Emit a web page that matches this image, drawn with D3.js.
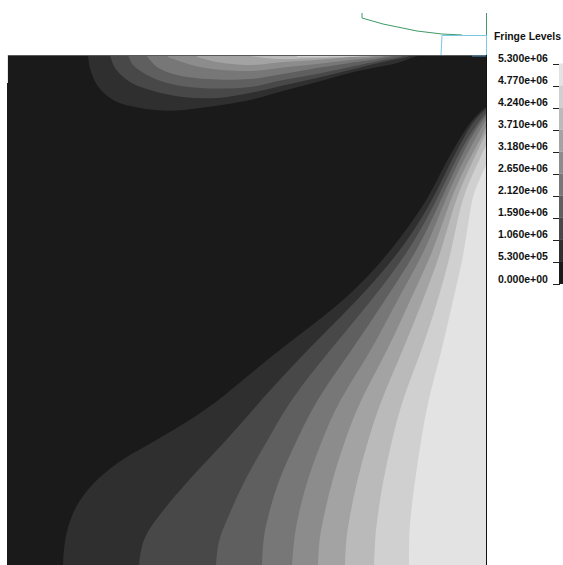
<!DOCTYPE html>
<html><head><meta charset="utf-8">
<style>html,body{margin:0;padding:0;background:#fff;overflow:hidden}svg{display:block}</style>
<script src="https://cdn.jsdelivr.net/npm/d3@7"></script></head>
<body><svg id="c" width="563" height="565"></svg>
<script>
// Fringe levels, top of legend first
const legendTitle = "Fringe Levels";
const fringeValues = [5.3e6,4.77e6,4.24e6,3.71e6,3.18e6,2.65e6,2.12e6,1.59e6,1.06e6,5.3e5,0];
const fringeLabels = ["5.300e+06","4.770e+06","4.240e+06","3.710e+06","3.180e+06","2.650e+06","2.120e+06","1.590e+06","1.060e+06","5.300e+05","0.000e+00"];
// band shades, lowest band first
const bandShades = ["#1a1a1a","#2f2f2f","#484848","#5f5f5f","#777777","#8c8c8c","#a3a3a3","#bababa","#d0d0d0","#e3e3e3"];

// Contours, in model units [x, depth] on a 479 x 510 plate
const right1 = [[56,510],[57,490],[61,470],[70,448],[88,425],[116,403],[150,385],[183,365],[213,345],[271,295],[340,245],[385,195],[421,145],[436,112],[456,78],[465,65],[475,55],[479,52]];
const right2 = [[132,510],[135,485],[148,465],[181,425],[220,385],[254,345],[300,295],[351,245],[395,195],[426,145],[441,112],[459,78],[469,63],[479,54]];
const right3 = [[209,510],[211,485],[220,465],[237,425],[261,385],[283,345],[323,295],[365,245],[403,195],[430,145],[445,112],[463,78],[479,58]];
const right4 = [[255,510],[256,485],[260,465],[271,425],[290,385],[309,345],[345,295],[378,245],[411,195],[434,145],[449,112],[466,78],[479,61]];
const right5 = [[285,510],[287,485],[290,465],[300,425],[315,385],[332,345],[365,295],[390,245],[419,195],[438,145],[453,112],[469,82],[479,65]];
const right6 = [[311,510],[312,485],[316,465],[325,425],[338,385],[353,345],[381,295],[403,245],[427,195],[443,145],[458,112],[473,85],[479,72]];
const right7 = [[338,510],[339,485],[342,465],[350,425],[361,385],[374,345],[396,295],[416,245],[435,195],[448,145],[463,112],[479,78]];
const right8 = [[367,510],[368,485],[370,465],[376,425],[385,385],[395,345],[415,295],[431,245],[445,195],[454,145],[469,112],[479,90]];
const right9 = [[402,510],[402,485],[403,465],[408,425],[414,385],[421,345],[435,295],[446,245],[458,195],[464,145],[471,128],[479,110]];
const lobe1 = [[81,0],[83,13],[90,30],[106,45],[133,53],[163,55.7],[193,53],[243,45],[276,36],[310,27],[343,18],[366,13],[390,8],[411,1],[418,0]];
const lobe2 = [[103,0],[108,13],[123,27],[143,35],[176,42],[210,43],[243,38],[276,30.5],[310,23],[343,15],[376,7],[400,2],[405,0]];
const lobe3 = [[121,0],[126,10],[140,20],[160,28],[193,33],[243,32],[276,25],[310,19],[343,12],[376,5],[393,2],[398,0]];
const lobe4 = [[139,0],[150,12],[170,20],[200,24],[243,24],[276,19],[310,13],[343,8],[376,3],[392,0]];
const lobe5 = [[161,2],[193,12],[243,16],[276,12.5],[310,9],[343,5],[378,1],[382,0]];
const lobe6 = [[190,2],[210,7],[243,10],[276,7],[310,5],[343,2],[368,1],[372,0]];
const lobe7 = [[243,1],[258,3],[276,4],[310,3],[343,2],[365,1],[370,0]];
const lobe8 = [[290,2],[306,2],[353,1],[358,0]];

// Wireframe fragments above the plate, model units (depth negative = above)
const greenCurve = [[355,-42],[355,-37],[376,-31],[410,-24],[435,-21],[455,-20]];
const greenEdge = [[479.5,-42],[479.5,-20]];
const blueEdge = [[479.5,-20],[479.5,0]];
const blueStep = [[479.5,-19.5],[435,-19.5],[434,0]];
const blueTick = [[465,1],[479,1]];

const rightBands = [right1,right2,right3,right4,right5,right6,right7,right8,right9];
const lobeBands = [lobe1,lobe2,lobe3,lobe4,lobe5,lobe6,lobe7,lobe8];

const x = d3.scaleLinear().domain([0,479]).range([7,486]);
const y = d3.scaleLinear().domain([0,510]).range([55,565]);
const fringeY = d3.scaleLinear().domain([0,5.3e6]).range([284,63.5]);
const svg = d3.select("#c");
const smooth = d3.line().x(d=>x(d[0])).y(d=>y(d[1])).curve(d3.curveCatmullRom.alpha(0.5));
const fair = d3.line().x(d=>x(d[0])).y(d=>y(d[1])).curve(d3.curveBasis);
const straight = d3.line().x(d=>x(d[0])).y(d=>y(d[1]));

// plate background
svg.append("rect").attr("x",x(0)).attr("y",y(0)).attr("width",x(479)-x(0)).attr("height",y(510)-y(0)).attr("fill",bandShades[0]);

// upper-left lobe bands
lobeBands.forEach((pts,i)=>{
  const d = smooth(pts)+"L"+x(pts[pts.length-1][0])+","+y(0)+"L"+x(pts[0][0])+","+y(0)+"Z";
  svg.append("path").attr("d",d).attr("fill",bandShades[i+1]);
});
// right-hand bands
rightBands.forEach((pts,i)=>{
  const d = fair(pts)+"L"+x(479)+","+y(510)+"Z";
  svg.append("path").attr("d",d).attr("fill",bandShades[i+1]);
});

// plate edges
svg.append("line").attr("x1",x(0)).attr("x2",x(479)).attr("y1",y(0)+.5).attr("y2",y(0)+.5).attr("stroke","#5a5a5a");
svg.append("line").attr("x1",x(0)+.5).attr("x2",x(0)+.5).attr("y1",y(0)).attr("y2",y(28)).attr("stroke","#e4e4e4");
svg.append("line").attr("x1",x(479.5)).attr("x2",x(479.5)).attr("y1",y(0)).attr("y2",y(510)).attr("stroke","#111");

// wireframe
[[greenCurve,"#3f9a68"],[greenEdge,"#3f9a68"],[blueEdge,"#7cc6e6"],[blueStep,"#7cc6e6"],[blueTick,"#4a90c0"]].forEach(([p,c])=>{
  svg.append("path").attr("d",straight(p)).attr("fill","none").attr("stroke",c).attr("stroke-width",1);
});

// legend
const font = "'Liberation Sans',Arial,sans-serif";
svg.append("text").attr("x",494).attr("y",40).attr("font-family",font).attr("font-size",10.4).attr("font-weight",700).attr("fill","#111").text(legendTitle);
fringeValues.forEach((v,i)=>{
  const yy = fringeY(v);
  svg.append("text").attr("x",498).attr("y",yy-1.5).attr("font-family",font).attr("font-size",10.5).attr("font-weight",700).attr("fill","#111").text(fringeLabels[i]);
  svg.append("line").attr("x1",553).attr("x2",560).attr("y1",Math.round(yy)+.5).attr("y2",Math.round(yy)+.5).attr("stroke","#222");
  if(i<fringeValues.length-1){
    const top = yy, bottom = fringeY(fringeValues[i+1]);
    svg.append("rect").attr("x",559).attr("y",top).attr("width",4).attr("height",bottom-top).attr("fill",bandShades[bandShades.length-1-i]);
  }
});
</script></body></html>
